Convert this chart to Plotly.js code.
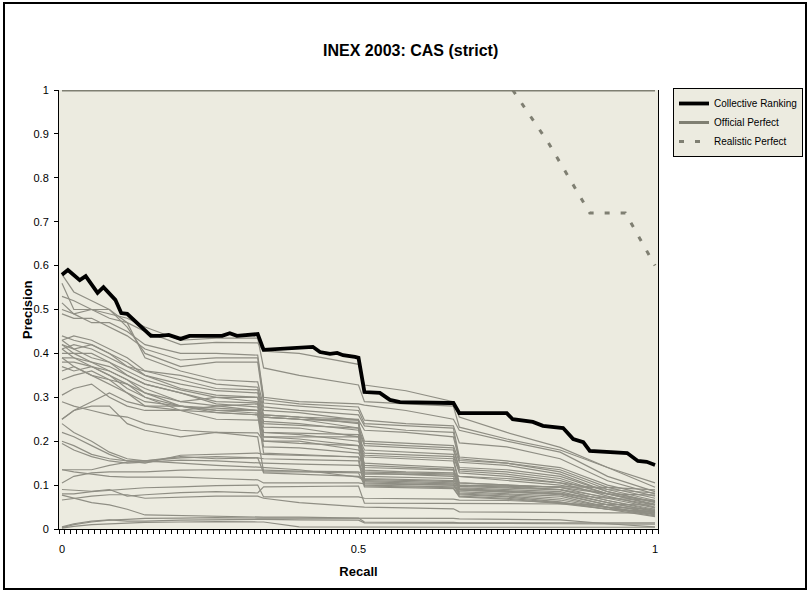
<!DOCTYPE html>
<html>
<head>
<meta charset="utf-8">
<script src="https://cdn.plot.ly/plotly-3.0.1.min.js"></script>
<style>
html,body{margin:0;padding:0;background:#fff;}
#chart{width:810px;height:592px;}
</style>
</head>
<body>
<div id="chart"></div>
<script>
// ---- data ----
const recallGrid = [0, 0.02, 0.05, 0.08, 0.11, 0.14, 0.2, 0.26, 0.33, 0.34, 0.4, 0.5, 0.51, 0.58, 0.66, 0.67, 0.75, 0.84, 0.92, 1.0];

const runs = [
  [0.56,0.50,0.50,0.49,0.48,0.46,0.43,0.435,0.435,0.367,0.35,0.328,0.29,0.285,0.28,0.232,0.205,0.18,0.14,0.095],
  [0.53,0.52,0.50,0.48,0.47,0.45,0.42,0.425,0.424,0.405,0.40,0.375,0.328,0.315,0.29,0.255,0.22,0.186,0.14,0.105],
  [0.515,0.49,0.47,0.47,0.45,0.42,0.40,0.40,0.396,0.30,0.29,0.285,0.282,0.27,0.25,0.225,0.2,0.175,0.12,0.085],
  [0.49,0.48,0.48,0.46,0.44,0.41,0.385,0.39,0.39,0.295,0.285,0.278,0.248,0.24,0.235,0.196,0.187,0.16,0.11,0.08],
  [0.58,0.54,0.52,0.50,0.46,0.40,0.37,0.38,0.38,0.287,0.28,0.27,0.24,0.235,0.23,0.164,0.155,0.14,0.1,0.075],
  [0.50,0.49,0.50,0.50,0.47,0.39,0.36,0.34,0.335,0.278,0.27,0.26,0.235,0.225,0.22,0.16,0.15,0.135,0.095,0.07],
  [0.44,0.43,0.42,0.40,0.37,0.36,0.35,0.33,0.323,0.27,0.265,0.248,0.225,0.22,0.21,0.156,0.15,0.13,0.09,0.065],
  [0.43,0.44,0.43,0.41,0.39,0.36,0.34,0.32,0.317,0.26,0.255,0.24,0.20,0.195,0.19,0.152,0.145,0.125,0.085,0.062],
  [0.42,0.41,0.42,0.40,0.38,0.35,0.33,0.315,0.31,0.255,0.25,0.23,0.195,0.19,0.185,0.14,0.135,0.12,0.085,0.06],
  [0.41,0.42,0.41,0.39,0.37,0.35,0.32,0.305,0.30,0.245,0.24,0.225,0.19,0.185,0.18,0.136,0.13,0.115,0.08,0.057],
  [0.40,0.40,0.40,0.38,0.36,0.34,0.317,0.30,0.29,0.232,0.23,0.21,0.18,0.175,0.17,0.132,0.125,0.11,0.08,0.055],
  [0.43,0.41,0.39,0.38,0.35,0.33,0.31,0.29,0.287,0.22,0.215,0.20,0.173,0.17,0.165,0.128,0.12,0.105,0.075,0.05],
  [0.39,0.39,0.38,0.37,0.35,0.33,0.31,0.285,0.278,0.21,0.205,0.19,0.168,0.165,0.16,0.105,0.10,0.095,0.07,0.048],
  [0.38,0.38,0.37,0.36,0.34,0.32,0.29,0.28,0.27,0.2,0.2,0.18,0.164,0.16,0.155,0.10,0.095,0.09,0.065,0.045],
  [0.42,0.40,0.38,0.36,0.34,0.31,0.28,0.27,0.264,0.187,0.185,0.173,0.15,0.145,0.14,0.097,0.094,0.089,0.065,0.042],
  [0.41,0.39,0.37,0.35,0.33,0.30,0.28,0.265,0.26,0.173,0.17,0.164,0.145,0.14,0.136,0.094,0.09,0.085,0.06,0.04],
  [0.37,0.36,0.37,0.35,0.32,0.30,0.27,0.25,0.248,0.26,0.255,0.25,0.14,0.137,0.134,0.092,0.088,0.082,0.06,0.04],
  [0.36,0.37,0.35,0.34,0.31,0.29,0.28,0.27,0.27,0.255,0.25,0.243,0.134,0.13,0.128,0.09,0.086,0.08,0.055,0.038],
  [0.34,0.35,0.36,0.34,0.33,0.31,0.29,0.30,0.30,0.24,0.236,0.23,0.128,0.125,0.12,0.089,0.084,0.078,0.055,0.036],
  [0.39,0.37,0.35,0.33,0.31,0.28,0.27,0.28,0.285,0.21,0.21,0.21,0.12,0.118,0.115,0.085,0.08,0.075,0.05,0.034],
  [0.305,0.32,0.33,0.30,0.28,0.27,0.27,0.265,0.26,0.22,0.218,0.215,0.113,0.11,0.108,0.082,0.078,0.07,0.05,0.032],
  [0.25,0.27,0.29,0.31,0.29,0.28,0.28,0.275,0.27,0.255,0.25,0.248,0.108,0.105,0.103,0.08,0.075,0.066,0.048,0.03],
  [0.25,0.27,0.28,0.28,0.24,0.225,0.21,0.22,0.219,0.2,0.195,0.19,0.105,0.103,0.1,0.078,0.073,0.062,0.045,0.028],
  [0.22,0.21,0.19,0.17,0.155,0.15,0.168,0.17,0.173,0.17,0.168,0.164,0.098,0.096,0.094,0.075,0.07,0.06,0.045,0.04],
  [0.20,0.19,0.17,0.16,0.155,0.155,0.162,0.165,0.162,0.16,0.158,0.155,0.096,0.094,0.092,0.073,0.068,0.058,0.045,0.038],
  [0.195,0.18,0.165,0.155,0.15,0.152,0.157,0.155,0.15,0.15,0.148,0.145,0.13,0.128,0.125,0.12,0.11,0.1,0.08,0.062],
  [0.24,0.22,0.2,0.175,0.16,0.155,0.15,0.145,0.141,0.14,0.135,0.118,0.11,0.108,0.105,0.10,0.098,0.09,0.072,0.055],
  [0.135,0.135,0.135,0.145,0.152,0.155,0.165,0.16,0.162,0.128,0.125,0.12,0.115,0.113,0.11,0.105,0.1,0.095,0.08,0.077],
  [0.105,0.12,0.128,0.13,0.13,0.13,0.134,0.135,0.134,0.134,0.132,0.13,0.125,0.125,0.123,0.12,0.115,0.105,0.09,0.082],
  [0.29,0.28,0.27,0.26,0.255,0.24,0.225,0.22,0.21,0.13,0.13,0.128,0.10,0.098,0.096,0.089,0.085,0.08,0.07,0.065],
  [0.135,0.13,0.125,0.12,0.118,0.118,0.118,0.115,0.112,0.105,0.105,0.105,0.103,0.102,0.1,0.099,0.098,0.097,0.095,0.089],
  [0.09,0.088,0.086,0.09,0.075,0.078,0.083,0.085,0.082,0.096,0.097,0.098,0.059,0.059,0.059,0.059,0.058,0.057,0.056,0.055],
  [0.08,0.08,0.085,0.088,0.092,0.094,0.096,0.099,0.1,0.073,0.073,0.073,0.07,0.069,0.068,0.066,0.065,0.06,0.05,0.045],
  [0.066,0.07,0.075,0.078,0.078,0.07,0.073,0.075,0.075,0.07,0.06,0.05,0.05,0.048,0.046,0.039,0.038,0.037,0.036,0.036],
  [0.077,0.07,0.06,0.055,0.045,0.032,0.03,0.028,0.027,0.027,0.027,0.025,0.016,0.016,0.015,0.014,0.014,0.014,0.014,0.014],
  [0.003,0.01,0.016,0.02,0.022,0.024,0.025,0.026,0.025,0.025,0.025,0.025,0.025,0.024,0.024,0.023,0.022,0.021,0.012,0.005],
  [0.002,0.006,0.01,0.012,0.014,0.015,0.016,0.017,0.016,0.016,0.005,0.004,0.004,0.004,0.004,0.004,0.004,0.004,0.004,0.004],
  [0.005,0.012,0.018,0.021,0.018,0.018,0.02,0.021,0.022,0.022,0.021,0.02,0.014,0.014,0.014,0.013,0.013,0.012,0.012,0.011]
];

const collectiveRecall = [0,0.01,0.03,0.04,0.06,0.07,0.09,0.10,0.11,0.13,0.15,0.165,0.18,0.20,0.215,0.27,0.283,0.295,0.322,0.33,0.34,0.423,0.435,0.452,0.464,0.474,0.494,0.50,0.51,0.536,0.553,0.57,0.654,0.66,0.67,0.75,0.76,0.794,0.811,0.845,0.862,0.879,0.89,0.919,0.953,0.971,0.986,1.0];
const collectivePrecision = [0.579,0.59,0.567,0.576,0.538,0.551,0.522,0.492,0.49,0.465,0.44,0.44,0.442,0.433,0.44,0.44,0.446,0.44,0.444,0.444,0.408,0.415,0.403,0.399,0.401,0.396,0.392,0.39,0.312,0.31,0.294,0.289,0.287,0.287,0.264,0.264,0.25,0.244,0.235,0.23,0.205,0.198,0.178,0.175,0.173,0.155,0.153,0.146];

const officialRecall = [0, 1];
const officialPrecision = [1, 1];

const realisticRecall = [0.76, 0.82, 0.89, 0.95, 1.0];
const realisticPrecision = [1.0, 0.88, 0.72, 0.72, 0.6];

const yTickVals = [0,0.1,0.2,0.3,0.4,0.5,0.6,0.7,0.8,0.9,1];
const yTickText = ['0','0.1','0.2','0.3','0.4','0.5','0.6','0.7','0.8','0.9','1'];
const xTickVals = [0, 0.5, 1];
const xTickText = ['0','0.5','1'];

// ---- traces ----
const FONT = 'Liberation Sans, Arial, sans-serif';
const traces = [];
runs.forEach(function(p){
  traces.push({x: recallGrid, y: p, type:'scatter', mode:'lines', showlegend:false, hoverinfo:'skip',
    line:{color:'#8F8E84', width:1.2}});
});
traces.push({x: officialRecall, y: officialPrecision, type:'scatter', mode:'lines', name:'Official Perfect',
  legendrank:2, line:{color:'#7F7F72', width:3}});
traces.push({x: realisticRecall, y: realisticPrecision, type:'scatter', mode:'lines', name:'Realistic Perfect',
  legendrank:3, line:{color:'#7F7F72', width:3, dash:'5px,11px'}});
traces.push({x: collectiveRecall, y: collectivePrecision, type:'scatter', mode:'lines', name:'Collective Ranking',
  legendrank:1, line:{color:'#000000', width:3.8}});

const L = 59, R = 658, T = 90, B = 529;
const pw = R - L, ph = B - T;
function px(x){ return (x - L) / pw; }
function py(y){ return (B - y) / ph; }

const layout = {
  width: 810, height: 592,
  margin: {l: L, r: 810 - R, t: T, b: 592 - B, pad: 0, autoexpand: false},
  paper_bgcolor: '#ffffff',
  plot_bgcolor: '#ECEBE0',
  font: {family: FONT, color: '#000', size: 11},
  title: {text: '<b>INEX 2003: CAS (strict)</b>', font: {family: FONT, size: 16, color: '#000'},
    xref: 'container', x: 0.507, xanchor: 'center', yref: 'container', y: 1 - 50/592, yanchor: 'middle'},
  xaxis: {
    range: [-0.005, 1.005], showgrid: false, zeroline: false, automargin: false,
    showline: true, linecolor: '#000', linewidth: 1,
    tickmode: 'array', tickvals: xTickVals, ticktext: xTickText, ticks: '',
    ticklabelstandoff: 10,
    tickfont: {family: FONT, size: 11, color: '#000'},
    minor: {tickmode: 'linear', tick0: 0.005, dtick: 0.01, ticks: 'outside', ticklen: 4, tickcolor: '#000', showgrid: false},
    title: {text: '<b>Recall</b>', font: {family: FONT, size: 13, color: '#000'}, standoff: 12}
  },
  yaxis: {
    range: [0, 1], showgrid: false, zeroline: false, automargin: false,
    showline: true, linecolor: '#000', linewidth: 1, mirror: true,
    tickmode: 'array', tickvals: yTickVals, ticktext: yTickText,
    ticks: 'outside', ticklen: 4, tickcolor: '#000',
    ticklabelstandoff: 3,
    tickfont: {family: FONT, size: 11, color: '#000'}
  },
  annotations: [{
    text: '<b>Precision</b>', textangle: -90, showarrow: false,
    xref: 'paper', yref: 'paper', x: px(27), y: py(310), xanchor: 'center', yanchor: 'middle',
    font: {family: FONT, size: 13, color: '#000'}
  }],
  legend: {
    xref: 'container', yref: 'container',
    x: 673/810, y: 1 - 88/592, xanchor: 'left', yanchor: 'top',
    bgcolor: '#ECEBE0', bordercolor: '#000', borderwidth: 1,
    font: {family: FONT, size: 10, color: '#000'},
    itemwidth: 30, tracegroupgap: 0
  },
  shapes: [{
    type: 'rect', xref: 'paper', yref: 'paper',
    x0: px(4), x1: px(806), y0: py(589), y1: py(3),
    line: {color: '#000', width: 2}, fillcolor: 'rgba(0,0,0,0)', layer: 'above'
  }],
  showlegend: true
};

Plotly.newPlot('chart', traces, layout, {staticPlot: true, displayModeBar: false});
</script>
</body>
</html>
